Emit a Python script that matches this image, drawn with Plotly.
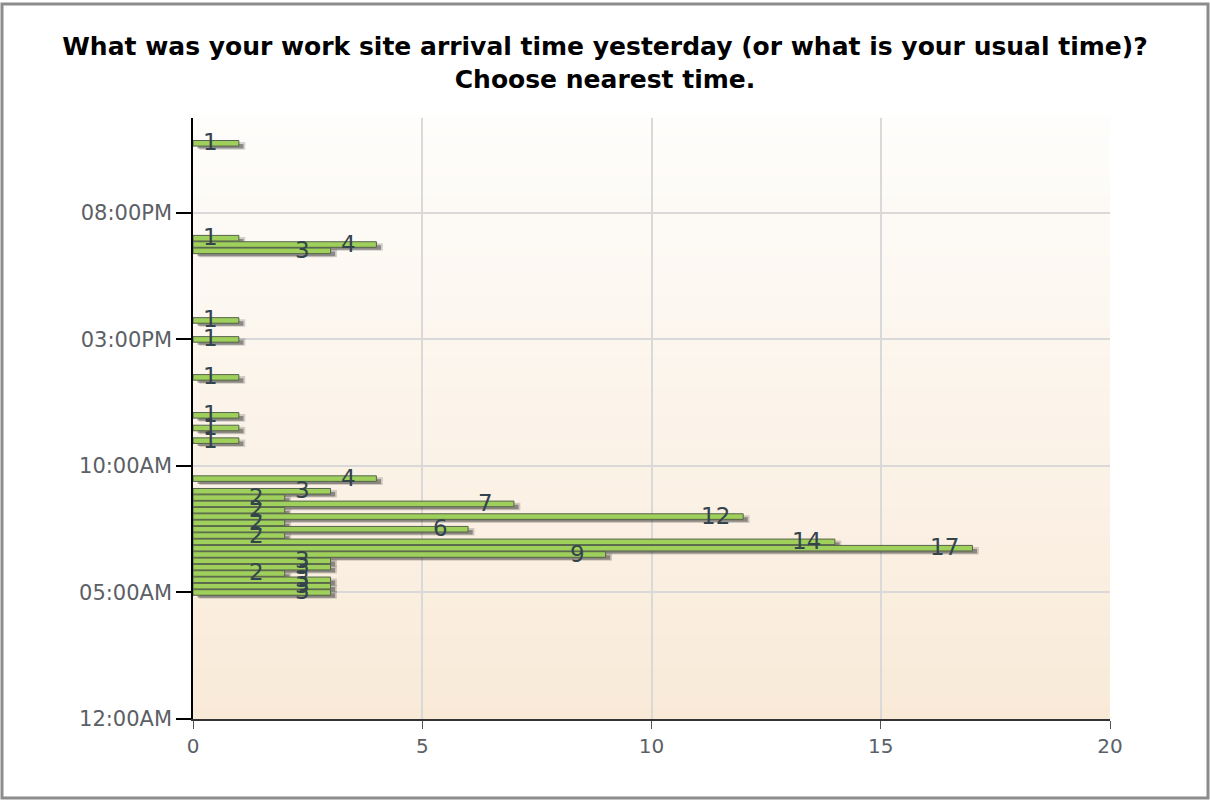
from datetime import datetime
import plotly.graph_objects as go

# ---------------- data ----------------
arrival_times = [
    "10:45PM", "07:00PM", "06:45PM", "06:30PM",
    "03:45PM", "03:00PM", "01:30PM", "12:00PM", "11:30AM", "11:00AM",
    "09:30AM", "09:00AM", "08:45AM", "08:30AM", "08:15AM", "08:00AM",
    "07:45AM", "07:30AM", "07:15AM", "07:00AM", "06:45AM", "06:30AM",
    "06:15AM", "06:00AM", "05:45AM", "05:30AM", "05:15AM", "05:00AM",
]
responses = [
    1, 1, 4, 3,
    1, 1, 1, 1, 1, 1,
    4, 3, 2, 7, 2, 12,
    2, 6, 2, 14, 17, 9,
    3, 3, 2, 3, 3, 3,
]
x_ticks = [0, 5, 10, 15, 20]
y_tick_hours = [0, 5, 10, 15, 20]
y_tick_labels = ["12:00AM", "05:00AM", "10:00AM", "03:00PM", "08:00PM"]
title_text = ("What was your work site arrival time yesterday (or what is your usual time)?"
              "<br>Choose nearest time.")


def to_hours(s):
    t = datetime.strptime(s, "%I:%M%p")
    return t.hour + t.minute / 60.0


hours = [to_hours(s) for s in arrival_times]

# ---------------- layout geometry ----------------
W, H = 1210, 800
L, R, T, B = 193, 100, 118, 81
PW, PH = W - L - R, H - T - B

FONT = "DejaVu Sans"

fig = go.Figure()

# soft shadow (two layers to mimic blur)
fig.add_trace(go.Bar(
    x=responses, y=hours, orientation="h", base=0.14,
    width=0.30, offset=-0.15 - 0.10,
    marker=dict(color="rgba(0,0,0,0.16)", line=dict(width=0)),
    hoverinfo="skip", showlegend=False,
))
fig.add_trace(go.Bar(
    x=responses, y=hours, orientation="h", base=0.10,
    width=0.18, offset=-0.09 - 0.12,
    marker=dict(color="rgba(40,40,40,0.42)", line=dict(width=0)),
    hoverinfo="skip", showlegend=False,
))
# main bars
fig.add_trace(go.Bar(
    x=responses, y=hours, orientation="h", width=0.22,
    marker=dict(color="#9fd05c", line=dict(color="#56634a", width=1)),
    showlegend=False,
))

# value labels
annotations = []
for h, c in zip(hours, responses):
    annotations.append(dict(
        x=c, y=h, xref="x", yref="y", text=str(c), showarrow=False,
        xanchor="center", yanchor="middle", xshift=-28, yshift=1,
        font=dict(family=FONT, size=23, color="#34444d"),
    ))

# gradient background bands
shapes = []
N = 60
top = (254, 253, 251)
bot = (249, 234, 216)
for i in range(N):
    f = i / (N - 1)
    col = tuple(round(top[k] + (bot[k] - top[k]) * f) for k in range(3))
    y1 = 1 - i / N
    y0 = 1 - (i + 1) / N
    shapes.append(dict(
        type="rect", xref="paper", yref="paper", x0=0, x1=1,
        y0=y0 - 0.002, y1=y1 + 0.002, layer="below",
        fillcolor="rgb(%d,%d,%d)" % col, line=dict(width=0),
    ))

# outer frame
shapes.append(dict(
    type="rect", xref="paper", yref="paper",
    x0=(2 - L) / PW, x1=(1208 - L) / PW,
    y0=(H - B - 798) / PH, y1=(H - B - 4) / PH,
    line=dict(color="#8c8c8c", width=3), fillcolor="rgba(0,0,0,0)", layer="above",
))

fig.update_layout(
    width=W, height=H,
    margin=dict(l=L, r=R, t=T, b=B, autoexpand=False),
    paper_bgcolor="white", plot_bgcolor="rgba(0,0,0,0)",
    barmode="overlay",
    title=dict(text="<b>" + title_text + "</b>", x=0.5, xref="container",
               y=1 - 55 / H, yref="container", yanchor="top", xanchor="center",
               font=dict(family=FONT, size=25, color="black")),
    annotations=annotations,
    shapes=shapes,
    showlegend=False,
)
fig.update_xaxes(
    range=[0, 20], tickvals=x_ticks, ticktext=[str(v) for v in x_ticks],
    showgrid=True, gridcolor="#d9d9d9", gridwidth=1.5,
    showline=True, linecolor="#333333", linewidth=2,
    ticks="outside", ticklen=8, tickcolor="#555555", tickwidth=1,
    tickfont=dict(family=FONT, size=20, color="#5b6066"),
    zeroline=False, automargin=False, fixedrange=True,
)
fig.update_yaxes(
    range=[0, 23.75], tickvals=y_tick_hours, ticktext=y_tick_labels,
    showgrid=True, gridcolor="#d9d9d9", gridwidth=1.5,
    showline=True, linecolor="black", linewidth=1.5,
    ticks="outside", ticklen=15, tickcolor="black", tickwidth=1.5,
    tickfont=dict(family=FONT, size=21, color="#5b6066"),
    zeroline=False, automargin=False, fixedrange=True,
)

fig.write_html(
    "out.html",
    config={"displayModeBar": False},
    post_script="document.body.style.margin='0';document.body.style.overflow='hidden';",
)
